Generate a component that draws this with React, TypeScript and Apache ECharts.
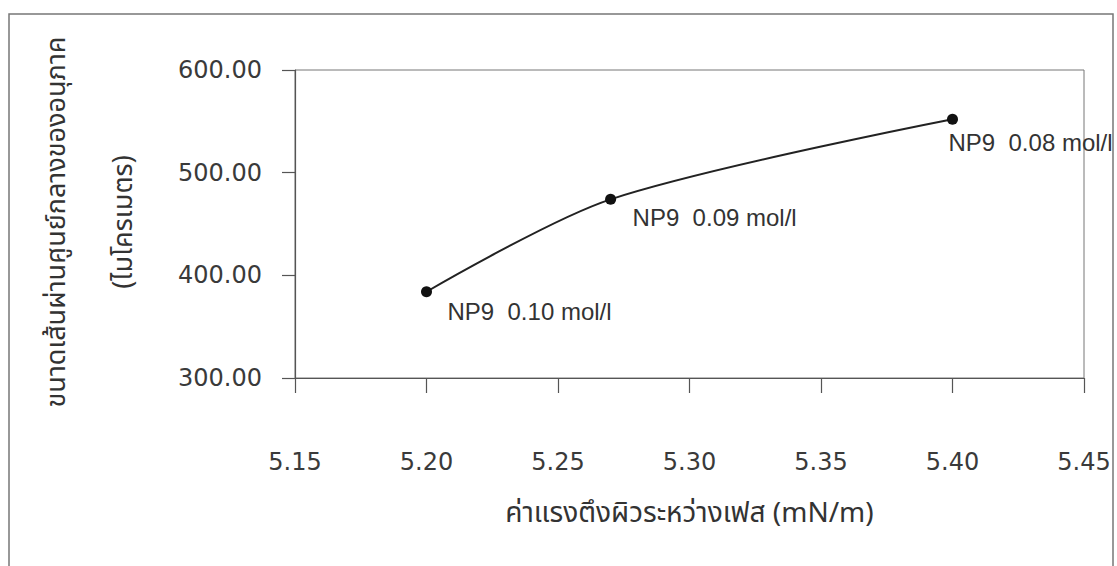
import React, { useEffect, useRef } from "react";
import * as echarts from "echarts";

// Interfacial tension (mN/m) vs. mean particle diameter (µm)
const tension = [5.2, 5.27, 5.4];
const diameter = [384, 474, 552];
const pointLabels = ["NP9  0.10 mol/l", "NP9  0.09 mol/l", "NP9  0.08 mol/l"];
const labelOffsets: [number, number][] = [
  [21, 20],
  [22, 18],
  [-4, 23],
];

const xTitle = "ค่าแรงตึงผิวระหว่างเฟส (mN/m)";
const yTitleLine1 = "ขนาดเส้นผ่านศูนย์กลางของอนุภาค";
const yTitleLine2 = "(ไมโครเมตร)";

const thaiFont = '"Noto Sans Thai", "Loma", "Garuda", "Tlwg Typist", "Noto Sans", "DejaVu Sans", sans-serif';
const tickFont = '"DejaVu Sans", "Liberation Sans", sans-serif';
const labelFont = '"Liberation Sans", Arial, sans-serif';

export default function App() {
  const ref = useRef<HTMLDivElement>(null);

  useEffect(() => {
    if (!ref.current) return;
    const chart = echarts.init(ref.current, undefined, { renderer: "svg" });
    const axisGray = "#555";
    chart.setOption({
      animation: false,
      backgroundColor: "#fff",
      grid: {
        left: 295,
        right: 33,
        top: 70,
        bottom: 188,
        show: true,
        borderColor: "#777",
        borderWidth: 1,
      },
      xAxis: {
        type: "value",
        min: 5.15,
        max: 5.45,
        interval: 0.05,
        name: xTitle,
        nameLocation: "middle",
        nameGap: 121,
        nameTextStyle: { fontFamily: thaiFont, fontSize: 28, color: "#333" },
        axisLine: { show: true, lineStyle: { color: axisGray, width: 1.2 } },
        axisTick: { show: true, length: 15, lineStyle: { color: axisGray, width: 1.2 } },
        axisLabel: {
          margin: 72,
          fontFamily: tickFont,
          fontSize: 24,
          color: "#3a3a3a",
          formatter: (v: number) => v.toFixed(2),
        },
        splitLine: { show: false },
      },
      yAxis: {
        type: "value",
        min: 300,
        max: 600,
        interval: 100,
        axisLine: { show: true, lineStyle: { color: axisGray, width: 1.2 } },
        axisTick: { show: true, length: 13, lineStyle: { color: axisGray, width: 1.2 } },
        axisLabel: {
          margin: 33,
          fontFamily: tickFont,
          fontSize: 24,
          color: "#3a3a3a",
          formatter: (v: number) => v.toFixed(2),
        },
        splitLine: { show: false },
      },
      graphic: [
        {
          type: "rect",
          shape: { x: 9, y: 14, width: 1104, height: 570 },
          style: { fill: "none", stroke: "#777", lineWidth: 1.5 },
          silent: true,
        },
        {
          type: "text",
          x: 56,
          y: 222,
          rotation: Math.PI / 2,
          style: {
            text: yTitleLine1,
            fontFamily: thaiFont,
            fontSize: 27,
            fill: "#333",
            align: "center",
            verticalAlign: "middle",
          },
        },
        {
          type: "text",
          x: 123,
          y: 222,
          rotation: Math.PI / 2,
          style: {
            text: yTitleLine2,
            fontFamily: thaiFont,
            fontSize: 27,
            fill: "#333",
            align: "center",
            verticalAlign: "middle",
          },
        },
      ],
      series: [
        {
          type: "line",
          smooth: 0.3,
          symbol: "circle",
          symbolSize: 11,
          itemStyle: { color: "#111" },
          lineStyle: { color: "#222", width: 2 },
          data: tension.map((t, i) => ({
            value: [t, diameter[i]],
            label: {
              show: true,
              position: "inside",
              align: "left",
              verticalAlign: "middle",
              offset: labelOffsets[i],
              formatter: pointLabels[i],
              fontFamily: labelFont,
              fontSize: 24,
              color: "#333",
            },
          })),
        },
      ],
    });
    return () => chart.dispose();
  }, []);

  return (
    <div
      ref={ref}
      style={{ position: "absolute", left: 0, top: 0, width: 1117, height: 566 }}
    />
  );
}
